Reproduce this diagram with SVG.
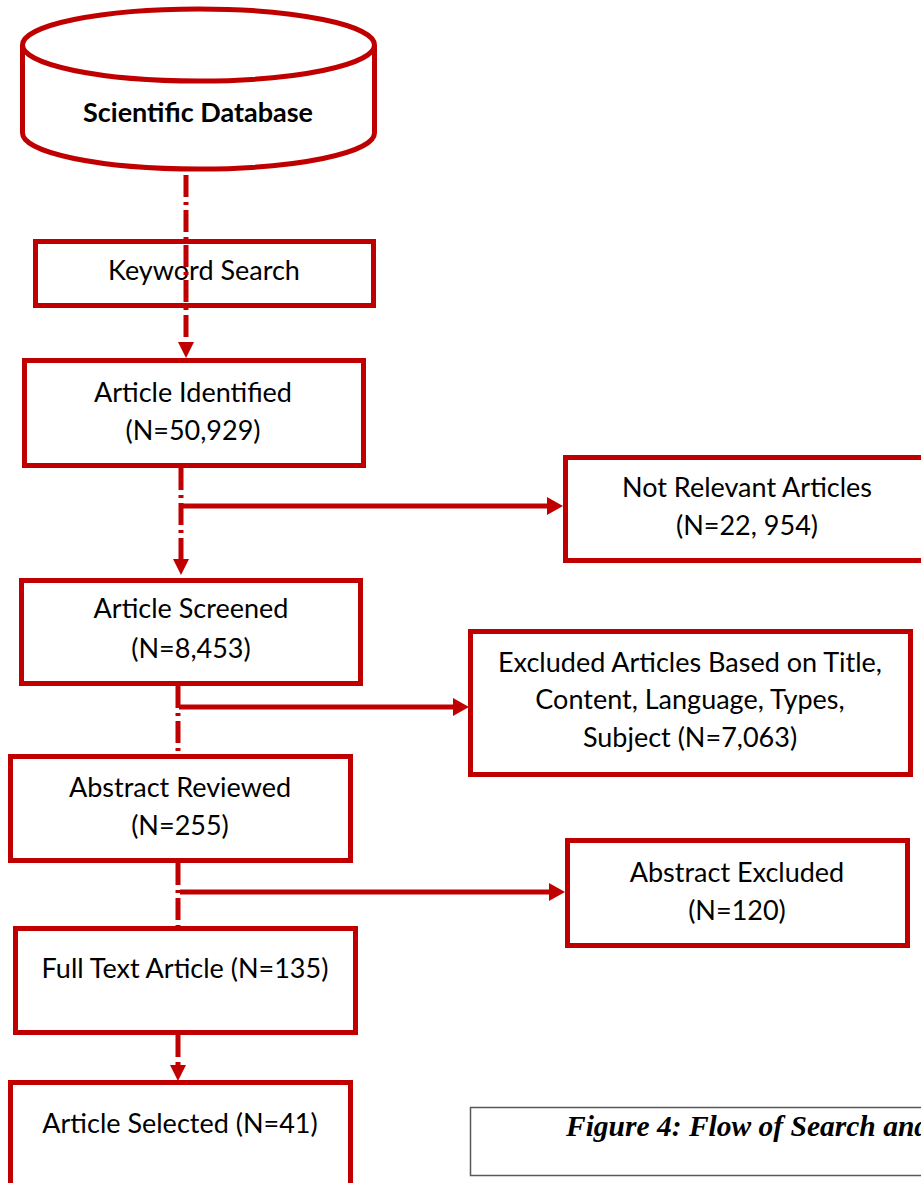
<svg xmlns="http://www.w3.org/2000/svg" width="921" height="1183" viewBox="0 0 921 1183">
  <style>
    .box { fill: #ffffff; stroke: #C00000; stroke-width: 5; }
    .lbl { font-family: Lato, "Liberation Sans", sans-serif; font-size: 27px; fill: #000000; text-anchor: middle; }
    .bold { font-weight: bold; }
    .flow { fill: none; stroke: #C00000; stroke-width: 5; stroke-dasharray: 22 5 3 5; }
    .branch { fill: none; stroke: #C00000; stroke-width: 5; }
    .caption { font-family: "Liberation Serif", "Times New Roman", serif; font-size: 29.5px; font-weight: bold; font-style: italic; fill: #000000; }
  </style>
  <defs>
    <marker id="headDown" markerUnits="userSpaceOnUse" markerWidth="16" markerHeight="16" refX="0" refY="8" orient="auto" viewBox="0 0 16 16">
      <path d="M0,0 L16,8 L0,16 z" fill="#C00000"/>
    </marker>
    <marker id="headRight" markerUnits="userSpaceOnUse" markerWidth="18" markerHeight="18" refX="2" refY="9" orient="auto" viewBox="0 0 18 18">
      <path d="M0,0 L16,9 L0,18 z" fill="#C00000"/>
    </marker>
  </defs>

  <!-- database cylinder -->
  <g id="database">
    <path d="M22.5,45 L22.5,133 A176,36 0 0 0 374.5,133 L374.5,45" class="box"/>
    <ellipse cx="198.5" cy="45" rx="176" ry="36" class="box"/>
    <text x="198" y="122" class="lbl bold">Scientific Database</text>
  </g>

  <g id="keyword-search">
    <rect x="35.5" y="241.5" width="338" height="64" class="box"/>
    <text x="204" y="280" class="lbl">Keyword Search</text>
  </g>

  <g id="article-identified">
    <rect x="24.5" y="360.5" width="339" height="105" class="box"/>
    <text x="193" y="402" class="lbl">Article Identified</text>
    <text x="193" y="440" class="lbl">(N=50,929)</text>
  </g>

  <g id="not-relevant">
    <rect x="565.5" y="457.5" width="366" height="103" class="box"/>
    <text x="747" y="497" class="lbl">Not Relevant Articles</text>
    <text x="747" y="535" class="lbl">(N=22, 954)</text>
  </g>

  <g id="article-screened">
    <rect x="21.5" y="580.5" width="339" height="103" class="box"/>
    <text x="191" y="618" class="lbl">Article Screened</text>
    <text x="191" y="658" class="lbl">(N=8,453)</text>
  </g>

  <g id="excluded-articles">
    <rect x="470.5" y="631.5" width="440" height="143" class="box"/>
    <text x="690" y="672" class="lbl">Excluded Articles Based on Title,</text>
    <text x="690" y="709" class="lbl">Content, Language, Types,</text>
    <text x="690" y="747" class="lbl">Subject (N=7,063)</text>
  </g>

  <g id="abstract-reviewed">
    <rect x="10.5" y="756.5" width="340" height="104" class="box"/>
    <text x="180" y="797" class="lbl">Abstract Reviewed</text>
    <text x="180" y="835" class="lbl">(N=255)</text>
  </g>

  <g id="abstract-excluded">
    <rect x="567.5" y="840.5" width="340" height="105" class="box"/>
    <text x="737" y="882" class="lbl">Abstract Excluded</text>
    <text x="737" y="920" class="lbl">(N=120)</text>
  </g>

  <g id="full-text">
    <rect x="15.5" y="928.5" width="340" height="104" class="box"/>
    <text x="185" y="978" class="lbl">Full Text Article (N=135)</text>
  </g>

  <g id="article-selected">
    <rect x="10.5" y="1082.5" width="340" height="150" class="box"/>
    <text x="180" y="1133" class="lbl">Article Selected (N=41)</text>
  </g>

  <g id="caption">
    <rect x="470.5" y="1107.5" width="470" height="68" fill="#ffffff" stroke="#595959" stroke-width="1.5"/>
    <text x="566" y="1136" class="caption">Figure 4: Flow of Search and</text>
  </g>

  <!-- connectors -->
  <g id="connectors">
    <line x1="186" y1="175" x2="186" y2="342" class="flow" marker-end="url(#headDown)"/>
    <line x1="181" y1="468" x2="181" y2="559" class="flow" marker-end="url(#headDown)"/>
    <line x1="178" y1="686" x2="178" y2="754" class="flow"/>
    <line x1="178" y1="863" x2="178" y2="926" class="flow"/>
    <line x1="178" y1="1035" x2="178" y2="1065" class="flow" stroke-dasharray="16 6" marker-end="url(#headDown)"/>
    <line x1="183" y1="506" x2="549" y2="506" class="branch" marker-end="url(#headRight)"/>
    <line x1="179" y1="707" x2="455" y2="707" class="branch" marker-end="url(#headRight)"/>
    <line x1="180" y1="892" x2="551" y2="892" class="branch" marker-end="url(#headRight)"/>
  </g>
</svg>
